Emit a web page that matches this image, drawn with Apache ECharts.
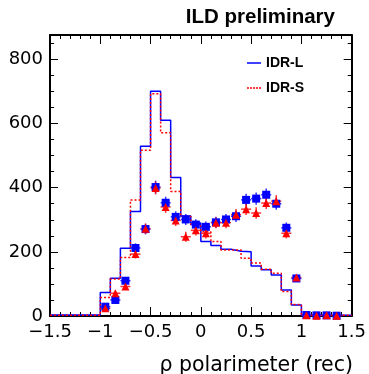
<!DOCTYPE html>
<html>
<head>
<meta charset="utf-8">
<script src="https://cdn.jsdelivr.net/npm/echarts@6/dist/echarts.min.js"></script>
<style>
html,body{margin:0;padding:0;background:#fff;}
#c{width:369px;height:374px;}
</style>
</head>
<body>
<div id="c"></div>
<script>
// Bin left edges (bin width 0.1) and histogram contents
var binEdges = [-1.5,-1.4,-1.3,-1.2,-1.1,-1.0,-0.9,-0.8,-0.7,-0.6,-0.5,-0.4,-0.3,-0.2,-0.1,
                0.0,0.1,0.2,0.3,0.4,0.5,0.6,0.7,0.8,0.9,1.0,1.1,1.2,1.3,1.4,1.5];
var histL = [3,3,3,3,3,73,118,211,326,529,701,610,432,312,290,232,220,208,202,200,156,144,128,81,34,2,2,2,2,2];
var histS = [2,2,2,2,2,58,115,182,362,517,693,571,388,310,281,263,232,206,206,180,165,146,133,76,36,2,2,2,2,2];

// Marker points (bin centres) with error bars
var markX = [-0.95,-0.85,-0.75,-0.65,-0.55,-0.45,-0.35,-0.25,-0.15,-0.05,0.05,0.15,0.25,0.35,0.45,0.55,0.65,0.75,0.85,0.95,1.05,1.15,1.25,1.35];
var markL = [29,50,110,212,271,402,353,309,301,285,278,292,301,311,362,366,378,350,275,117,3,2,2,1];
var errL  = [5.4,7.1,10.5,14.6,16.5,20,18.8,17.6,17.3,16.9,16.7,17.1,17.3,17.6,19,19.1,19.4,18.7,16.6,10.8,1.7,1.4,1.4,1];
var markS = [24,71,92,193,272,399,340,298,247,267,258,291,291,316,333,321,352,358,258,120,2,1,2,1];
var errS  = [4.9,8.4,9.6,13.9,16.5,20,18.4,17.3,15.7,16.3,16.1,17.1,17.1,17.8,18.2,17.9,18.8,18.9,16.1,11,1.4,1,1.4,1];

var xTicks = {min:-1.5, max:1.5, interval:0.5};
var yTicks = {min:0, max:876, major:200, minor:50};

var BLUE = '#0000ff', RED = '#ff0000';
var HALF_BIN = 0.05;

function stepData(vals){
  var d = [];
  for (var i=0;i<vals.length;i++) d.push([binEdges[i], vals[i]]);
  d.push([binEdges[vals.length], vals[vals.length-1]]);
  return d;
}
function errSeries(ys, errs, color){
  return {
    type:'custom', xAxisIndex:0, yAxisIndex:0, silent:true, z:3,
    data: markX.map(function(x,i){return [x, ys[i], errs[i]];}),
    renderItem: function(params, api){
      var x=api.value(0), y=api.value(1), e=api.value(2);
      var c=api.coord([x,y]), l=api.coord([x-HALF_BIN,y]), r=api.coord([x+HALF_BIN,y]);
      var t=api.coord([x,y+e]), b=api.coord([x,y-e]);
      var st={stroke:color, lineWidth:1.5, opacity:0.8};
      return {type:'group', children:[
        {type:'line', shape:{x1:l[0],y1:c[1],x2:r[0],y2:c[1]}, style:st},
        {type:'line', shape:{x1:c[0],y1:t[1],x2:c[0],y2:b[1]}, style:st}
      ]};
    }
  };
}
function fmtX(v){ return String(v).replace('-', '\u2212'); }

var labelFont = {fontFamily:'DejaVu Sans', fontSize:18, color:'#000'};
var solidIcon = 'path://M0,0H14V1.5H0Z';
var dotIcon = 'path://M0,0H2V1.5H0Z M3,0H5V1.5H3Z M6,0H8V1.5H6Z M9,0H11V1.5H9Z M12,0H14V1.5H12Z';

var chart = echarts.init(document.getElementById('c'), null, {renderer:'canvas'});
chart.setOption({
  animation:false,
  backgroundColor:'#fff',
  grid:{left:50, right:16, top:35, bottom:58, containLabel:false},
  legend:{
    orient:'vertical', left:242, top:51, itemWidth:14, itemHeight:1.5, itemGap:11,
    data:[{name:'IDR-L', icon:solidIcon}, {name:'IDR-S', icon:dotIcon}],
    textStyle:{fontFamily:'Liberation Sans', fontWeight:'bold', fontSize:14, color:'#000'}
  },
  graphic:[
    {type:'text', right:34, top:7, style:{text:'ILD preliminary', fontFamily:'Liberation Sans', fontWeight:'bold', fontSize:20.5, fill:'#000'}},
    {type:'text', right:16, top:355, style:{text:'\u03c1 polarimeter (rec)', fontFamily:'DejaVu Sans', fontSize:20.5, fill:'#000'}}
  ],
  xAxis:[
    {type:'value', position:'bottom', min:xTicks.min, max:xTicks.max, interval:xTicks.interval,
     axisLine:{show:true, onZero:false, lineStyle:{color:'#000', width:2}},
     axisTick:{show:true, inside:true, length:9, lineStyle:{color:'#000', width:1}},
     minorTick:{show:true, splitNumber:5, length:4, lineStyle:{color:'#000', width:1}},
     axisLabel:Object.assign({margin:7, formatter:fmtX}, labelFont),
     splitLine:{show:false}},
    {type:'value', position:'top', min:xTicks.min, max:xTicks.max, interval:xTicks.interval,
     axisLine:{show:true, onZero:false, lineStyle:{color:'#000', width:2}},
     axisTick:{show:true, inside:true, length:9, lineStyle:{color:'#000', width:1}},
     minorTick:{show:true, splitNumber:5, length:4, lineStyle:{color:'#000', width:1}},
     axisLabel:{show:false}, splitLine:{show:false}}
  ],
  yAxis:[
    {type:'value', position:'left', min:yTicks.min, max:yTicks.max, interval:yTicks.major,
     axisLine:{show:true, onZero:false, lineStyle:{color:'#000', width:2}},
     axisTick:{show:true, inside:true, length:8, lineStyle:{color:'#000', width:1}},
     axisLabel:Object.assign({margin:7, showMaxLabel:false, formatter:function(v){return v%yTicks.major===0?String(v):'';}}, labelFont),
     splitLine:{show:false}},
    {type:'value', position:'left', min:yTicks.min, max:yTicks.max, interval:yTicks.minor,
     axisLine:{show:false, onZero:false}, axisTick:{show:true, inside:true, length:4, lineStyle:{color:'#000', width:1}},
     axisLabel:{show:false}, splitLine:{show:false}},
    {type:'value', position:'right', min:yTicks.min, max:yTicks.max, interval:yTicks.major,
     axisLine:{show:true, onZero:false, lineStyle:{color:'#000', width:2}},
     axisTick:{show:true, inside:true, length:8, lineStyle:{color:'#000', width:1}},
     axisLabel:{show:false}, splitLine:{show:false}},
    {type:'value', position:'right', min:yTicks.min, max:yTicks.max, interval:yTicks.minor,
     axisLine:{show:false, onZero:false}, axisTick:{show:true, inside:true, length:4, lineStyle:{color:'#000', width:1}},
     axisLabel:{show:false}, splitLine:{show:false}}
  ],
  series:[
    {name:'IDR-L', type:'line', step:'end', xAxisIndex:0, yAxisIndex:0, data:stepData(histL),
     symbol:'none', lineStyle:{color:BLUE, width:1.5}, itemStyle:{color:BLUE}, z:2},
    {name:'IDR-S', type:'line', step:'end', xAxisIndex:0, yAxisIndex:0, data:stepData(histS),
     symbol:'none', lineStyle:{color:RED, width:1.5, type:[2,2]}, itemStyle:{color:RED}, z:2},
    errSeries(markL, errL, BLUE),
    {type:'scatter', xAxisIndex:0, yAxisIndex:0, symbol:'rect', symbolSize:8, z:4,
     data: markX.map(function(x,i){return [x, markL[i]];}), itemStyle:{color:BLUE, opacity:1}},
    errSeries(markS, errS, RED),
    {type:'scatter', xAxisIndex:0, yAxisIndex:0, symbol:'triangle', symbolSize:8, z:5,
     data: markX.map(function(x,i){return [x, markS[i]];}), itemStyle:{color:RED, opacity:1}}
  ]
});
</script>
</body>
</html>
